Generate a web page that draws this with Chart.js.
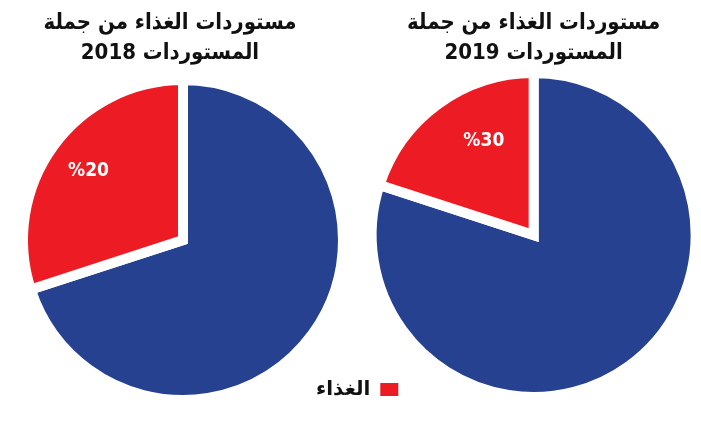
<!DOCTYPE html>
<html><head><meta charset="utf-8">
<script src="https://cdn.jsdelivr.net/npm/chart.js@4"></script>
<style>
html,body{margin:0;padding:0;background:#fff;}
#wrap{position:relative;width:701px;height:430px;overflow:hidden;background:#fff;}
.box{position:absolute;top:0;height:430px;}
</style></head><body>
<div id="wrap">
<div class="box" style="left:0;width:370px"><canvas id="c1"></canvas></div>
<div class="box" style="left:290px;width:411px"><canvas id="c2"></canvas></div>
</div>
<script>
// ---- data ----
const categories = ['مستوردات أخرى', 'الغذاء'];
const values2018 = [70, 30];
const values2019 = [80, 20];
const sliceText2018 = '%20';
const sliceText2019 = '%30';
const title2018 = ['مستوردات الغذاء من جملة', 'المستوردات 2018'];
const title2019 = ['مستوردات الغذاء من جملة', 'المستوردات 2019'];
const legendShown = ['الغذاء'];
const colors = ['#26418f', '#ed1c24'];

const FONT = '"DejaVu Sans Condensed", "DejaVu Sans", sans-serif';

const sliceLabel = {
  id: 'sliceLabel',
  afterDatasetsDraw(chart, args, opts) {
    const arc = chart.getDatasetMeta(0).data[opts.index];
    const p = arc.getProps(['x', 'y', 'startAngle', 'endAngle', 'outerRadius'], true);
    const a = (p.startAngle + p.endAngle) / 2 + (opts.angleShift || 0) * Math.PI / 180;
    const r = p.outerRadius * opts.radiusFrac;
    const ctx = chart.ctx;
    ctx.save();
    ctx.font = opts.font;
    ctx.fillStyle = opts.color;
    ctx.textAlign = 'center';
    ctx.textBaseline = 'middle';
    ctx.fillText(opts.text, p.x + Math.cos(a) * r, p.y + Math.sin(a) * r);
    ctx.restore();
  }
};
const titleShift = {
  id: 'titleShift',
  afterLayout(chart, args, opts) {
    const t = chart.titleBlock;
    if (t && opts.dx) { t.left += opts.dx; t.right += opts.dx; }
  }
};

function dataset(values) {
  return {
    data: values,
    backgroundColor: colors,
    borderColor: '#ffffff',
    borderWidth: 10,
    borderJoinStyle: 'miter',
    hoverOffset: 0
  };
}
const titleFont = { family: FONT, size: 22, weight: 'bold', lineHeight: '30px' };

new Chart(document.getElementById('c1'), {
  type: 'pie',
  data: { labels: categories, datasets: [Object.assign(dataset(values2018), { radius: 160 })] },
  options: {
    responsive: true, maintainAspectRatio: false, animation: false,
    layout: { padding: { left: 0, right: 4, top: 0, bottom: 18 } },
    plugins: {
      title: { display: true, text: title2018, color: '#111', font: titleFont, padding: { top: 8, bottom: 0 } },
      legend: { display: false },
      tooltip: { enabled: false },
      titleShift: { dx: -13 },
      sliceLabel: { index: 1, text: sliceText2018, radiusFrac: 0.73, angleShift: 0, color: '#fff', font: 'bold 19px ' + FONT }
    }
  },
  plugins: [titleShift, sliceLabel]
});

new Chart(document.getElementById('c2'), {
  type: 'pie',
  data: { labels: categories, datasets: [Object.assign(dataset(values2019), { radius: 162 })] },
  options: {
    responsive: true, maintainAspectRatio: false, animation: false,
    layout: { padding: { left: 16, right: 33, top: 0, bottom: 29.5 } },
    plugins: {
      title: { display: true, text: title2019, fullSize: false, color: '#111', font: titleFont, padding: { top: 8, bottom: 1.5 } },
      legend: {
        display: true, position: 'left', fullSize: false, align: 'end', rtl: true,
        labels: {
          boxWidth: 18, boxHeight: 13, padding: 1, color: '#111',
          font: { family: '"DejaVu Sans", sans-serif', size: 20, weight: 'bold', lineHeight: 1 },
          generateLabels(chart) {
            const items = Chart.overrides.pie.plugins.legend.labels.generateLabels(chart);
            return items.filter(i => legendShown.includes(i.text)).map(i => Object.assign(i, { lineWidth: 0, strokeStyle: 'transparent' }));
          }
        }
      },
      tooltip: { enabled: false },
      sliceLabel: { index: 1, text: sliceText2019, radiusFrac: 0.655, angleShift: 8, color: '#fff', font: 'bold 19px ' + FONT }
    }
  },
  plugins: [sliceLabel]
});
</script>
</body></html>
